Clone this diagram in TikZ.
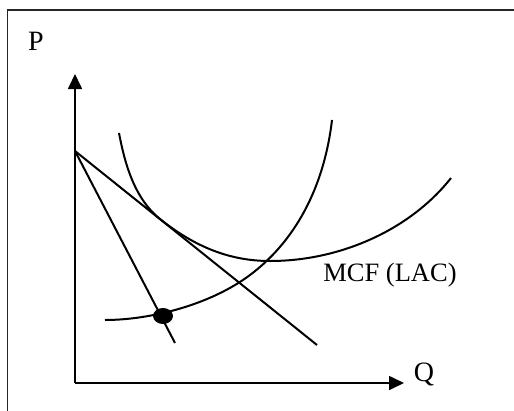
\documentclass[tikz,border=0pt]{standalone}
\usepackage{fontspec}
\setmainfont{Liberation Serif}
\usetikzlibrary{arrows.meta}
\begin{document}
\begin{tikzpicture}[x=1pt,y=-1pt,
  curve/.style={line width=2pt,black},
  axis/.style={line width=1.7pt,black,-{Triangle[length=15pt,width=14pt]}},
  frame/.style={line width=1.4pt,black!85},
  lbl/.style={inner sep=0pt,font=\fontsize{28}{32}\selectfont},
  slbl/.style={inner sep=0pt,font=\fontsize{26.5}{30}\selectfont}]
\useasboundingbox (0,0) rectangle (514,410);
\draw[frame] (7.5,420) -- (7.5,10) -- (525,10);
% axes
\coordinate (O) at (75,383);
\coordinate (Ytop) at (75,74);
\coordinate (Xend) at (404,383);
\draw[axis] (O) -- (Ytop);
\draw[axis] (O) -- (Xend);
\node[lbl] (P) at (36,41) {P};
\node[lbl] (Q) at (424,374) {Q};
% demand and MR lines
\coordinate (I) at (75,151);
\coordinate (Dend) at (317,345);
\coordinate (MRend) at (175,343);
\draw[curve] (I) -- (Dend);
\draw[curve] (I) -- (MRend);
% LAC curve
\draw[curve] (119,133) .. controls (125,165) and (135,199) .. (160,219)
  .. controls (195,247) and (230,261) .. (270,261)
  .. controls (340,261) and (410,230) .. (451,178);
% MC curve
\draw[curve] (105,320) .. controls (150,320) and (210,305) .. (250,275)
  .. controls (300,237.5) and (325,180) .. (332,120);
% point
\fill (163,316) ellipse [x radius=10, y radius=8];
\node[slbl] (lab) at (390,275) {MCF (LAC)};
\end{tikzpicture}
\end{document}
